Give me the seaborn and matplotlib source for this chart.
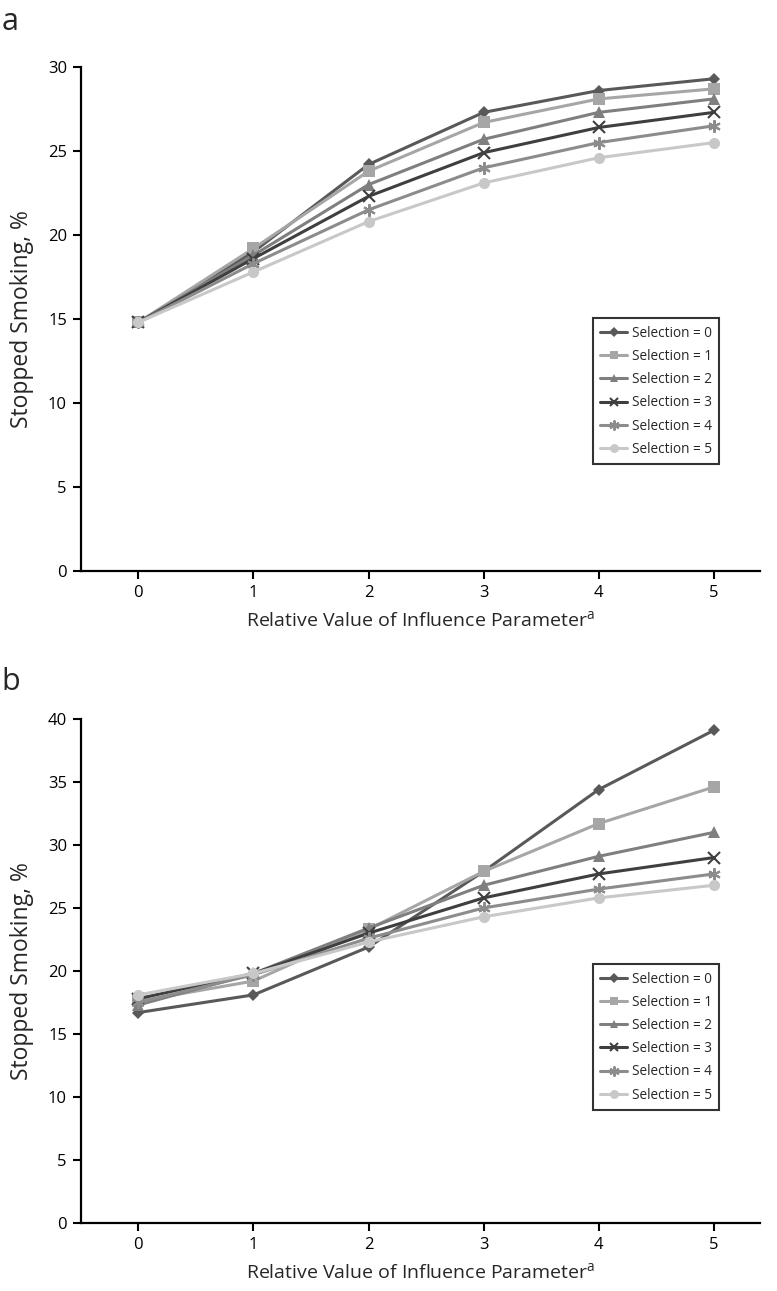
import pandas as pd
import seaborn as sns
import matplotlib.pyplot as plt

# relative value of influence parameter
x_vals = [0, 1, 2, 3, 4, 5]
selections = ['0', '1', '2', '3', '4', '5']

# panel a, stopped smoking %
a_sel0 = [14.8, 19.0, 24.2, 27.3, 28.6, 29.3]
a_sel1 = [14.8, 19.2, 23.8, 26.7, 28.1, 28.7]
a_sel2 = [14.8, 18.8, 23.0, 25.7, 27.3, 28.1]
a_sel3 = [14.8, 18.6, 22.3, 24.9, 26.4, 27.3]
a_sel4 = [14.8, 18.3, 21.5, 24.0, 25.5, 26.5]
a_sel5 = [14.8, 17.8, 20.8, 23.1, 24.6, 25.5]

# panel b, stopped smoking %
b_sel0 = [16.7, 18.1, 21.9, 27.9, 34.4, 39.1]
b_sel1 = [17.6, 19.2, 23.3, 27.9, 31.7, 34.6]
b_sel2 = [17.3, 19.8, 23.4, 26.8, 29.1, 31.0]
b_sel3 = [17.8, 19.8, 23.0, 25.8, 27.7, 29.0]
b_sel4 = [17.5, 19.7, 22.6, 25.0, 26.5, 27.7]
b_sel5 = [18.1, 19.8, 22.3, 24.3, 25.8, 26.8]

colors = ['#595959', '#a6a6a6', '#7f7f7f', '#3f3f3f', '#8c8c8c', '#c8c8c8']
marks = ['D', 's', '^', 'x', (6, 2, 0), 'o']
msizes = [6, 8, 8, 8, 9, 8]


def to_long(series):
    rows = []
    for sel, vals in zip(selections, series):
        for xv, v in zip(x_vals, vals):
            rows.append({'x': xv, 'y': v, 'Selection': sel})
    return pd.DataFrame(rows)


sns.set_style('ticks')
plt.rcParams['font.family'] = ['Open Sans', 'DejaVu Sans']
plt.rcParams['mathtext.fontset'] = 'custom'
plt.rcParams['mathtext.rm'] = 'Open Sans'

fig = plt.figure(figsize=(7.77, 12.91), dpi=100)
ax_a = fig.add_axes([0.104, 0.5577, 0.874, 0.3904])
ax_b = fig.add_axes([0.104, 0.0527, 0.874, 0.3904])

panels = [
    (ax_a, [a_sel0, a_sel1, a_sel2, a_sel3, a_sel4, a_sel5], 30, 0.212, 'a', 30),
    (ax_b, [b_sel0, b_sel1, b_sel2, b_sel3, b_sel4, b_sel5], 40, 0.224, 'b', 690),
]

for ax, series, ymax, leg_y, letter, let_y in panels:
    df = to_long(series)
    for i, sel in enumerate(selections):
        d = df[df['Selection'] == sel]
        sns.lineplot(data=d, x='x', y='y', ax=ax, color=colors[i], marker=marks[i],
                     markersize=msizes[i], markeredgewidth=1.5 if i in (3, 4) else 0,
                     markeredgecolor=colors[i], linewidth=2.2,
                     label='Selection = ' + sel)
    ax.set_xlim(-0.5, 5.4)
    ax.set_ylim(0, ymax)
    ax.set_xticks(x_vals)
    ax.set_yticks(range(0, ymax + 1, 5))
    ax.tick_params(direction='out', length=6, width=1.5, pad=4, labelsize=12, colors='black')
    for s in ['left', 'bottom']:
        ax.spines[s].set_linewidth(1.6)
        ax.spines[s].set_color('black')
    sns.despine(ax=ax)
    ax.set_xlabel('Relative Value of Influence Parameter$^{\\mathrm{a}}$', fontsize=14, labelpad=7)
    ax.set_ylabel('Stopped Smoking, %', fontsize=16.5, labelpad=10)
    leg = ax.legend(loc='lower right', bbox_to_anchor=(0.94, leg_y), fontsize=9.8,
                    frameon=True, fancybox=False, edgecolor='black', handlelength=2.0,
                    handletextpad=0.3, borderpad=0.55, labelspacing=0.6, markerscale=0.8,
                    borderaxespad=0)
    leg.get_frame().set_linewidth(1.5)
    fig.text(0.002, 1 - let_y / 1291, letter, fontsize=22, ha='left', va='baseline')

fig.savefig('out.png', dpi=100)
